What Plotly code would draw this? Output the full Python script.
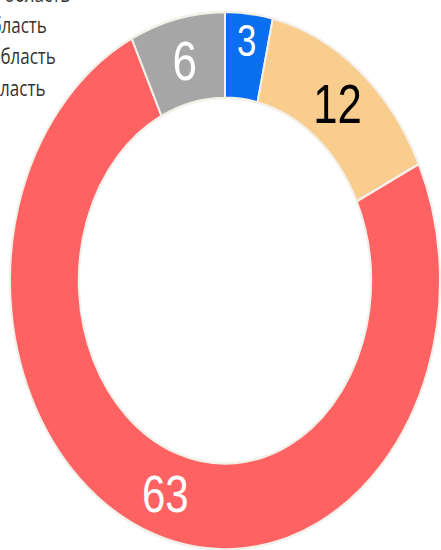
import plotly.graph_objects as go

labels = ["Московская область", "Тверская область", "Рязанская область", "Тульская область"]
values = [3, 12, 63, 6]
colors = ["#0a6ef0", "#f8cd8e", "#ff6262", "#a6a6a6"]
text_colors = ["white", "black", "white", "white"]
text_sizes = [44, 44, 42, 44]

# the reference image is a vertically stretched rendering of a round donut
STRETCH = 1.25
W, H = 441, 550
H0 = round(H / STRETCH)  # 440

fig = go.Figure(
    go.Pie(
        labels=labels,
        values=values,
        sort=False,
        direction="clockwise",
        rotation=0,
        hole=0.68,
        marker=dict(colors=colors, line=dict(color="#f3efe9", width=2)),
        textinfo="value",
        textposition="inside",
        insidetextorientation="horizontal",
        textfont=dict(family="Liberation Sans, Arial", size=text_sizes, color=text_colors),
        domain=dict(x=[10 / W, 440 / W], y=[0, 1 - 9 / H0]),
        hoverinfo="label+value",
    )
)

fig.update_layout(
    width=W,
    height=H0,
    margin=dict(l=0, r=0, t=0, b=0, autoexpand=False),
    paper_bgcolor="white",
    plot_bgcolor="white",
    showlegend=True,
    legend=dict(
        x=-0.313, xanchor="left", y=1.052, yanchor="top",
        font=dict(family="Open Sans", size=17, color="#333333"),
        bgcolor="rgba(0,0,0,0)",
    ),
)

post = (
    "document.body.style.margin='0';"
    "var d=document.getElementById('{plot_id}');"
    "d.style.transformOrigin='0 0';"
    "d.style.transform='scaleY(%s)';" % STRETCH
)

fig.write_html("out.html", post_script=post, config={"displayModeBar": False})
